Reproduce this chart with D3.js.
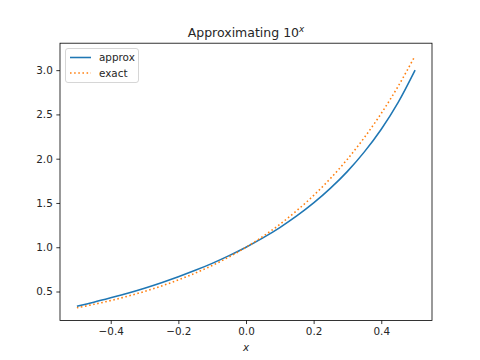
<!DOCTYPE html>
<html><head><meta charset="utf-8">
<script src="https://cdn.jsdelivr.net/npm/d3@7"></script>
<style>body{margin:0;background:#fff}svg{display:block}text{font-family:"DejaVu Sans",sans-serif;fill:#262626}</style>
</head><body>
<script>
const xs = [-0.5,-0.45,-0.4,-0.35,-0.3,-0.25,-0.2,-0.15,-0.1,-0.05,0,0.05,0.1,0.15,0.2,0.25,0.3,0.35,0.4,0.45,0.5];
const approx = [0.333,0.379,0.429,0.481,0.538,0.600,0.667,0.739,0.818,0.905,1.0,1.105,1.222,1.353,1.5,1.667,1.857,2.077,2.333,2.636,3.0];
const exact = [0.316,0.355,0.398,0.447,0.501,0.562,0.631,0.708,0.794,0.891,1.0,1.122,1.259,1.413,1.585,1.778,1.995,2.239,2.512,2.818,3.162];
const xTicks = [-0.4,-0.2,0.0,0.2,0.4];
const yTicks = [0.5,1.0,1.5,2.0,2.5,3.0];
const seriesNames = ["approx","exact"];

const W=480,H=360, L=60, R=432, T=43.2, B=320.4;
const svg=d3.select("body").append("svg").attr("width",W).attr("height",H);
const allY=approx.concat(exact);
const yMin=d3.min(allY), yMax=d3.max(allY), yPad=(yMax-yMin)*0.05;
const x=d3.scaleLinear().domain([-0.55,0.55]).range([L,R]);
const y=d3.scaleLinear().domain([yMin-yPad,yMax+yPad]).range([B,T]);
const fmt=d=>d3.format(".1f")(d).replace("-","\u2212");

const line=d3.line().x((d,i)=>x(xs[i])).y(d=>y(d)).curve(d3.curveCatmullRom);
const g=svg.append("g");
g.append("path").attr("d",line(approx)).attr("fill","none").attr("stroke","#1f77b4").attr("stroke-width",1.5625);
g.append("path").attr("d",line(exact)).attr("fill","none").attr("stroke","#ff7f0e").attr("stroke-width",1.5625).attr("stroke-dasharray","1.56,2.58");

const xa=svg.append("g").attr("transform",`translate(0,${B})`).call(d3.axisBottom(x).tickValues(xTicks).tickFormat(fmt).tickSize(3.65).tickPadding(3.6));
const ya=svg.append("g").attr("transform",`translate(${L},0)`).call(d3.axisLeft(y).tickValues(yTicks).tickFormat(fmt).tickSize(3.65).tickPadding(3.6));
[xa,ya].forEach(a=>{a.select(".domain").remove();a.selectAll("line").attr("stroke","#000").attr("stroke-width",0.8);a.selectAll("text").attr("font-size",10.4).attr("font-family","DejaVu Sans").attr("fill","#262626");});

svg.append("rect").attr("x",L).attr("y",T).attr("width",R-L).attr("height",B-T).attr("fill","none").attr("stroke","#000").attr("stroke-width",0.8);

const title=svg.append("text").attr("x",(L+R)/2).attr("y",37).attr("text-anchor","middle").attr("font-size",12.5);
title.append("tspan").text("Approximating 10");
title.append("tspan").attr("font-style","italic").attr("font-size",8.8).attr("dy",-5).text("x");

svg.append("text").attr("x",(L+R)/2).attr("y",351).attr("text-anchor","middle").attr("font-size",10.4).attr("font-style","italic").text("x");

const lg=svg.append("g");
lg.append("rect").attr("x",65.5).attr("y",48.5).attr("width",73).attr("height",34).attr("rx",2.5).attr("fill","#fff").attr("fill-opacity",0.8).attr("stroke","#cccccc").attr("stroke-width",0.8);
const lcol=["#1f77b4","#ff7f0e"], ldash=[null,"1.56,2.58"];
seriesNames.forEach((n,i)=>{
  const yy=57.5+i*15.5;
  lg.append("line").attr("x1",70).attr("x2",91).attr("y1",yy).attr("y2",yy).attr("stroke",lcol[i]).attr("stroke-width",1.5625).attr("stroke-dasharray",ldash[i]);
  lg.append("text").attr("x",99).attr("y",yy+3.8).attr("font-size",10.4).text(n);
});
</script>
</body></html>
